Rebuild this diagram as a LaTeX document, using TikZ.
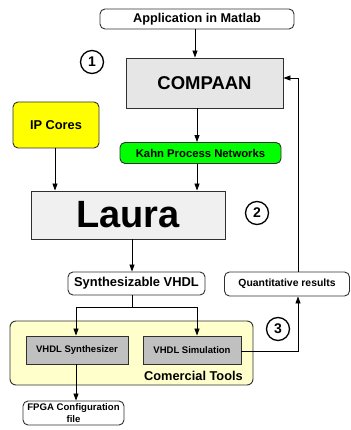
\documentclass[tikz,border=0pt]{standalone}
\usepackage{fontspec}
\setmainfont{Liberation Sans}
\usetikzlibrary{arrows.meta}
\definecolor{bordc}{HTML}{303030}
\definecolor{compfill}{HTML}{E6E6E6}
\definecolor{laurafill}{HTML}{F0F0F0}
\definecolor{vhdlfill}{HTML}{C0C0C0}
\definecolor{toolfill}{HTML}{FFFFCC}
\definecolor{ipfill}{HTML}{FFFF00}
\definecolor{kpnfill}{HTML}{00FF00}
\tikzset{
  box/.style={draw=bordc, line width=0.9pt, rectangle, inner sep=0pt, align=center, font=\bfseries},
  rbox/.style={box, rounded corners=5pt},
  num/.style={draw=black, line width=1.3pt, circle, minimum size=23pt, inner sep=0pt, font=\bfseries\fontsize{14}{14}\selectfont},
  arr/.style={draw=black, line width=0.8pt, -{Triangle[length=7pt,width=5pt]}},
  ln/.style={draw=black, line width=0.8pt}
}
\begin{document}
\begin{tikzpicture}[x=1pt,y=-1pt]
\useasboundingbox (0,0) rectangle (350,430);
% commercial tools background
\node[box, rounded corners=6pt, fill=toolfill, minimum width=243pt, minimum height=64pt] (tools) at (131.5,353) {};
\node[font=\bfseries\fontsize{12.8}{12.8}\selectfont, anchor=east, inner sep=0pt] (toolslbl) at (243,376) {Comercial Tools};

\node[rbox, minimum width=194pt, minimum height=20pt, font=\bfseries\fontsize{12.7}{12.7}\selectfont] (app) at (197,19) {Application in Matlab};
\node[box, fill=compfill, minimum width=157pt, minimum height=50pt, font=\bfseries\fontsize{18.5}{18.5}\selectfont] (compaan) at (204.5,83) {COMPAAN};
\node[rbox, fill=ipfill, minimum width=86pt, minimum height=46pt, font=\bfseries\fontsize{12.8}{12.8}\selectfont] (ip) at (56,125) {IP Cores};
\node[rbox, fill=kpnfill, minimum width=161pt, minimum height=21pt, font=\bfseries\fontsize{11.3}{11.3}\selectfont] (kpn) at (200.5,153) {Kahn Process Networks};
\node[box, fill=laurafill, minimum width=194pt, minimum height=48pt, font=\bfseries\fontsize{38}{38}\selectfont] (laura) at (128,215) {Laura};
\node[rbox, minimum width=137pt, minimum height=23pt, font=\bfseries\fontsize{12.9}{12.9}\selectfont] (synth) at (136.5,283.5) {Synthesizable VHDL};
\node[rbox, minimum width=125pt, minimum height=24pt, font=\bfseries\fontsize{10.4}{10.4}\selectfont] (quant) at (287,284) {Quantitative results};
\node[box, fill=vhdlfill, minimum width=102pt, minimum height=28pt, font=\bfseries\fontsize{9.5}{9.5}\selectfont] (vsyn) at (77,350) {VHDL Synthesizer};
\node[box, fill=vhdlfill, minimum width=98pt, minimum height=28pt, font=\bfseries\fontsize{9.5}{9.5}\selectfont] (vsim) at (192,350) {VHDL Simulation};
\node[rbox, minimum width=101pt, minimum height=24pt, font=\bfseries\fontsize{9.6}{11.5}\selectfont] (fpga) at (73.5,413) {FPGA Configuration\\file};

\node[num] (n1) at (92,62) {1};
\node[num] (n2) at (257,213) {2};
\node[num] (n3) at (278,329) {3};

% connectors
\draw[arr] (app.south -| 195,0) -- (compaan.north -| 195,0);
\draw[arr] (compaan.south -| 197,0) -- (kpn.north -| 197,0);
\draw[arr] (kpn.south -| 197,0) -- (laura.north -| 197,0);
\draw[arr] (ip.south -| 55,0) -- (laura.north -| 55,0);
\draw[arr] (laura.south -| 132,0) -- (synth.north -| 132,0);
\coordinate (split) at (132,307);
\draw[ln] (synth.south -| split) -- (split);
\draw[arr] (split) -| (vsyn.north -| 76,0);
\draw[arr] (split) -| (vsim.north -| 197,0);
\draw[arr] (vsyn.south -| 76,0) -- (fpga.north -| 76,0);
\coordinate (simc) at (298,351);
\draw[arr] (vsim.east |- simc) -- (simc) -- (quant.south -| simc);
\coordinate (fbc) at (298,78);
\draw[arr] (quant.north -| fbc) -- (fbc) -- (compaan.east |- fbc);
\end{tikzpicture}
\end{document}
